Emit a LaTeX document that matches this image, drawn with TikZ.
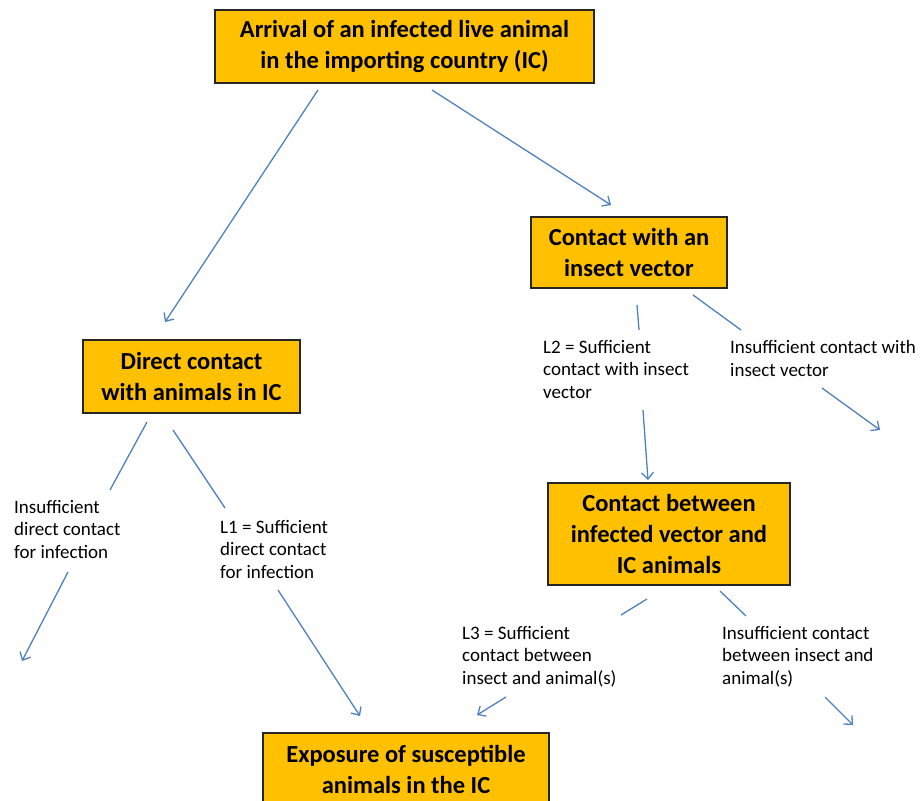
\documentclass[tikz,border=0pt]{standalone}
\usepackage{fontspec}
\setmainfont{Carlito}
\usetikzlibrary{positioning, arrows.meta}
\definecolor{stagefill}{HTML}{FFC000}
\definecolor{linkblue}{HTML}{4F81BD}

\begin{document}
\begin{tikzpicture}[x=1pt, y=-1pt,
    stage/.style={draw=black!85, line width=1.3pt, fill=stagefill, align=center, inner sep=0pt,
        font=\bfseries\fontsize{24.5}{31}\selectfont},
    outcome/.style={anchor=base west, align=left, inner sep=0pt, font=\fontsize{19}{22.5}\selectfont},
    link/.style={linkblue, line width=1.3pt},
    flow/.style={link, -{Straight Barb[length=6.5pt, width=12pt]}}]
    \useasboundingbox (0,0) rectangle (922,801);
    \clip (0,0) rectangle (922,801);

    % boxes
    \node[stage, minimum width=379pt, minimum height=73pt] (arrival) at (404.5,46.5)
        {Arrival of an infected live animal\\in the importing country (IC)};
    \node[stage, minimum width=196pt, minimum height=71pt] (vector) at (629,252.5)
        {Contact with an\\insect vector};
    \node[stage, minimum width=217pt, minimum height=73pt] (direct) at (191.5,376.5)
        {Direct contact\\with animals in IC};
    \node[stage, minimum width=242pt, minimum height=102pt] (between) at (669,534)
        {Contact between\\infected vector and\\IC animals};
    \node[stage, minimum width=286pt, minimum height=72pt] (exposure) at (406,769)
        {Exposure of susceptible\\animals in the IC};

    % outcomes (placed at the base of their last line)
    \node[outcome] (noDirect) at (14,558) {Insufficient\\direct contact\\for infection};
    \node[outcome] (levelOne) at (220,578) {L1 = Sufficient\\direct contact\\for infection};
    \node[outcome] (levelTwo) at (543,398) {L2 = Sufficient\\contact with insect\\vector};
    \node[outcome] (noVector) at (730,376) {Insufficient contact with\\insect vector};
    \node[outcome] (levelThree) at (462,684) {L3 = Sufficient\\contact between\\insect and animal(s)};
    \node[outcome] (noBite) at (722,684) {Insufficient contact\\between insect and\\animal(s)};

    % end points of the connectors
    \coordinate (a1) at (318,90);   \coordinate (a2) at (165,322);
    \coordinate (a3) at (432,90);   \coordinate (a4) at (611,205);
    \coordinate (d1) at (147,422);  \coordinate (d2) at (110,490);
    \coordinate (d3) at (68,572);   \coordinate (d4) at (22,661);
    \coordinate (d5) at (173,430);  \coordinate (d6) at (225,508);
    \coordinate (d7) at (278,590);  \coordinate (d8) at (360,716);
    \coordinate (v1) at (637,305);  \coordinate (v2) at (639,330);
    \coordinate (v3) at (643,410);  \coordinate (v4) at (648,480);
    \coordinate (v5) at (693,295);  \coordinate (v6) at (741,330);
    \coordinate (v7) at (822,388);  \coordinate (v8) at (880,430);
    \coordinate (b1) at (647,599);  \coordinate (b2) at (621,615);
    \coordinate (b3) at (506,697);  \coordinate (b4) at (477,715);
    \coordinate (b5) at (720,591);  \coordinate (b6) at (746,616);
    \coordinate (b7) at (825,697);  \coordinate (b8) at (853,725);

    % connectors
    \draw[flow] (a1) -- (a2);
    \draw[flow] (a3) -- (a4);
    \foreach \p/\q in {d1/d2, d5/d6, v1/v2, v5/v6, b1/b2, b5/b6}
        \draw[link] (\p) -- (\q);
    \foreach \p/\q in {d3/d4, d7/d8, v3/v4, v7/v8, b3/b4, b7/b8}
        \draw[flow] (\p) -- (\q);
\end{tikzpicture}
\end{document}
